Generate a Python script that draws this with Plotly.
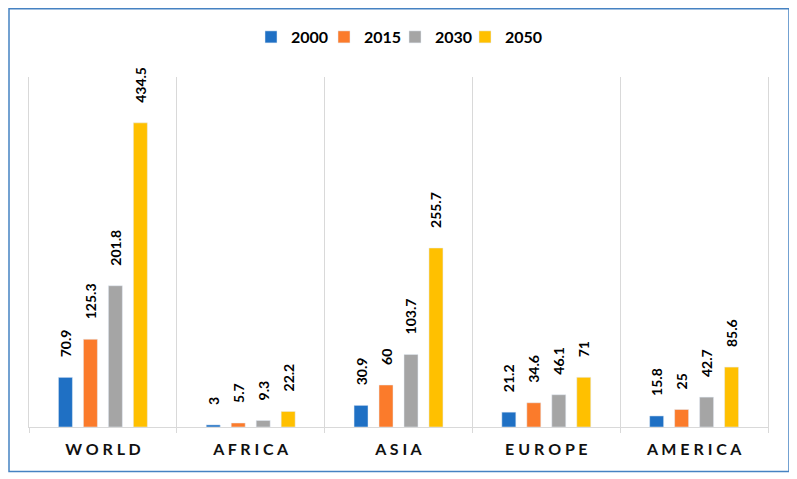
import plotly.graph_objects as go

categories = ["WORLD", "AFRICA", "ASIA", "EUROPE", "AMERICA"]
tick_labels = [" ".join(c) for c in categories]
series_names = ["2000", "2015", "2030", "2050"]
v2000 = [70.9, 3, 30.9, 21.2, 15.8]
v2015 = [125.3, 5.7, 60, 34.6, 25]
v2030 = [201.8, 9.3, 103.7, 46.1, 42.7]
v2050 = [434.5, 22.2, 255.7, 71, 85.6]
colors = ["#1F70C4", "#FB7B2B", "#A5A5A5", "#FFC000"]

PL, PW, PT, PH = 29, 739, 77, 350  # plot area in page pixels
legend_ids = ["legend", "legend2", "legend3", "legend4"]
legend_left = [251, 324, 395, 465]

fig = go.Figure()
for name, vals, col, lid in zip(series_names, [v2000, v2015, v2030, v2050], colors, legend_ids):
    fig.add_trace(go.Bar(
        name=name, x=tick_labels, y=vals, marker_color=col, legend=lid,
        texttemplate="\u00a0\u00a0\u00a0\u00a0\u00a0%{y}", textposition="outside",
        textangle=-90, cliponaxis=False, constraintext="none",
        textfont=dict(family="Lato", size=14, color="#000000", weight="bold"),
    ))

legend_common = dict(orientation="h", yanchor="middle", y=(427 - 37) / PH, xanchor="left",
                     font=dict(family="Lato", size=16, color="#000000", weight="bold"),
                     itemwidth=30, bgcolor="rgba(0,0,0,0)")
legends = {}
for lid, lx in zip(legend_ids, legend_left):
    legends[lid] = dict(legend_common, x=(lx - PL) / PW)

W, H = 789, 471
fig.update_layout(
    width=W, height=H,
    margin=dict(l=PL - 8, r=W + 8 - PL - PW, t=PT - 8, b=H + 8 - PT - PH),
    paper_bgcolor="white", plot_bgcolor="white",
    barmode="group", bargap=0.324, bargroupgap=0.44,
    showlegend=True,
    xaxis=dict(showline=True, linecolor="#D9D9D9", linewidth=1,
               showgrid=True, gridcolor="#D9D9D9", gridwidth=1, tickson="boundaries",
               ticks="outside", ticklen=5, tickcolor="#D9D9D9", ticklabelstandoff=8,
               tickfont=dict(family="Lato", size=16, color="#111111", weight="bold")),
    yaxis=dict(range=[0, 500], showgrid=False, showticklabels=False, zeroline=False,
               showline=True, mirror=True, linecolor="#D9D9D9", linewidth=1),
    shapes=[dict(type="rect", xref="paper", yref="paper",
                 x0=(9 - PL) / PW, x1=(789 - PL) / PW,
                 y0=-(471.5 - 427) / PH, y1=(427 - 8.75) / PH,
                 line=dict(color="#4682C2", width=1.5), fillcolor="rgba(0,0,0,0)")],
    **legends,
)

fig.write_html("out.html")
